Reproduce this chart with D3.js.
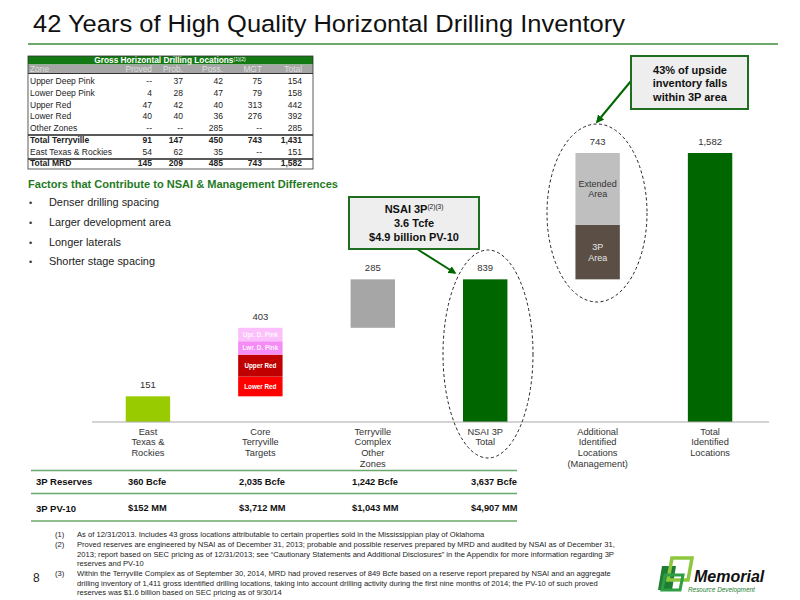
<!DOCTYPE html>
<html><head><meta charset="utf-8">
<script src="https://cdn.jsdelivr.net/npm/d3@7"></script>
<style>
body{margin:0;background:#fff;}
svg{display:block;}
text{font-family:"Liberation Sans",Arial,sans-serif;}
.narrow{font-family:"Liberation Sans Narrow","Arial Narrow","Liberation Sans",sans-serif;}
</style></head>
<body>
<svg id="c" width="800" height="600"></svg>
<script>
// ---------- DATA ----------
const categories = [
  ["East","Texas &","Rockies"],
  ["Core","Terryville","Targets"],
  ["Terryville","Complex","Other","Zones"],
  ["NSAI 3P","Total"],
  ["Additional","Identified","Locations","(Management)"],
  ["Total","Identified","Locations"]
];
const barBase  = [0, 151, 554, 0, 839, 0];
const barValue = [151, 403, 285, 839, 743, 1582];
const barLabels = ["151","403","285","839","743","1,582"];
const coreSegNames  = ["Lower Red","Upper Red","Lwr. D. Pink","Upr. D. Pink"];
const coreSegValues = [116, 129, 79, 79];
const addSegNames  = [["3P","Area"],["Extended","Area"]];
const addSegValues = [320, 423];

const tableHeader = ["Zone","Proved","Prob.","Poss.","MGT","Total"];
const tableZones  = ["Upper Deep Pink","Lower Deep Pink","Upper Red","Lower Red","Other Zones","Total Terryville","East Texas & Rockies","Total MRD"];
const colProved = ["--","4","47","40","--","91","54","145"];
const colProb   = ["37","28","42","40","--","147","62","209"];
const colPoss   = ["42","47","40","36","285","450","35","485"];
const colMGT    = ["75","79","313","276","--","743","--","743"];
const colTotal  = ["154","158","442","392","285","1,431","151","1,582"];

const factors = ["Denser drilling spacing","Larger development area","Longer laterals","Shorter stage spacing"];
const reserves3P = ["360 Bcfe","2,035 Bcfe","1,242 Bcfe","3,637 Bcfe"];
const pv10 = ["$152 MM","$3,712 MM","$1,043 MM","$4,907 MM"];

const footnotes = [
  ["(1)","As of 12/31/2013. Includes 43 gross locations attributable to certain properties sold in the Mississippian play of Oklahoma"],
  ["(2)","Proved reserves are engineered by NSAI as of December 31, 2013; probable and possible reserves prepared by MRD and audited by NSAI as of December 31,"],
  ["","2013; report based on SEC pricing as of 12/31/2013; see \u201cCautionary Statements and Additional Disclosures\u201d in the Appendix for more information regarding 3P"],
  ["","reserves and PV-10"],
  ["(3)","Within the Terryville Complex as of September 30, 2014, MRD had proved reserves of 849 Bcfe based on a reserve report prepared by NSAI and an aggregate"],
  ["","drilling inventory of 1,411 gross identified drilling locations, taking into account drilling activity during the first nine months of 2014; the PV-10 of such proved"],
  ["","reserves was $1.6 billion based on SEC pricing as of 9/30/14"]
];

// ---------- DRAW ----------
const svg = d3.select("#c");
const darkGreen = "#006600";

// title
svg.append("text").attr("x",33).attr("y",32).attr("font-size",24.5).attr("fill","#111")
  .attr("textLength",592).attr("lengthAdjust","spacingAndGlyphs")
  .text("42 Years of High Quality Horizontal Drilling Inventory");
svg.append("line").attr("x1",28).attr("x2",778).attr("y1",44).attr("y2",44)
  .attr("stroke","#3c8c3c").attr("stroke-width",1.5);

// ---------- table ----------
const tX0 = 28, tX1 = 313;
const colRight = [null,152,183,223,262,302];
svg.append("rect").attr("x",tX0).attr("y",56).attr("width",tX1-tX0).attr("height",8.5).attr("fill","#137a13");
const ht = svg.append("text").attr("x",170).attr("y",63.3).attr("text-anchor","middle")
  .attr("font-size",8.3).attr("font-weight","bold").attr("fill","#fff");
ht.append("tspan").text("Gross Horizontal Drilling Locations");
ht.append("tspan").attr("font-size",5).attr("dy",-2).attr("font-weight","normal").text("(1)(2)");
svg.append("rect").attr("x",tX0).attr("y",64.5).attr("width",tX1-tX0).attr("height",8.5).attr("fill","#a6a6a6");
tableHeader.forEach((h,i)=>{
  svg.append("text").attr("x", i===0?30:colRight[i]).attr("y",72)
    .attr("text-anchor", i===0?"start":"end").attr("font-size",8.4).attr("fill","#dedede").text(h);
});
svg.append("line").attr("x1",tX0).attr("x2",tX1).attr("y1",73.5).attr("y2",73.5).attr("stroke","#333").attr("stroke-width",1);
const cols = [colProved,colProb,colPoss,colMGT,colTotal];
const rowY = d3.scaleLinear().domain([0,7]).range([84.3,166.4]);
tableZones.forEach((z,r)=>{
  const bold = (r===5||r===7);
  const y = rowY(r);
  svg.append("text").attr("x",30).attr("y",y).attr("font-size",8.5).attr("fill","#222")
    .attr("font-weight",bold?"bold":"normal").text(z);
  cols.forEach((c,ci)=>{
    svg.append("text").attr("x",colRight[ci+1]).attr("y",y).attr("text-anchor","end")
      .attr("font-size",8.5).attr("fill","#222").attr("font-weight",bold?"bold":"normal").text(c[r]);
  });
});
[135,159].forEach(y=>svg.append("line").attr("x1",tX0).attr("x2",tX1).attr("y1",y).attr("y2",y).attr("stroke","#222").attr("stroke-width",1.3));
svg.append("rect").attr("x",tX0).attr("y",56).attr("width",tX1-tX0).attr("height",113)
  .attr("fill","none").attr("stroke","#333").attr("stroke-width",0.8);

// ---------- factors ----------
svg.append("text").attr("x",28).attr("y",188).attr("font-size",11).attr("font-weight","bold")
  .attr("fill","#1f7a1f").attr("textLength",310).attr("lengthAdjust","spacingAndGlyphs")
  .text("Factors that Contribute to NSAI & Management Differences");
factors.forEach((f,i)=>{
  const y = 206 + i*19.8;
  svg.append("text").attr("x",29).attr("y",y).attr("font-size",9).attr("fill","#333").text("\u2022");
  svg.append("text").attr("x",49).attr("y",y).attr("font-size",10.9).attr("fill","#222").text(f);
});

// ---------- bars ----------
const x = d3.scaleBand().domain(d3.range(categories.length)).range([92,766]).paddingInner(0.605).paddingOuter(0.3);
const y = d3.scaleLinear().domain([0,1582]).range([422,153]);
const barColors = ["#99cc00",null,"#a6a6a6",darkGreen,null,darkGreen];

barValue.forEach((v,i)=>{
  if(barColors[i]) {
    svg.append("rect").attr("x",x(i)).attr("width",x.bandwidth())
      .attr("y",y(barBase[i]+v)).attr("height",y(barBase[i])-y(barBase[i]+v)).attr("fill",barColors[i]);
  }
});
// core segments
const coreColors = ["#ff0000","#c00000","#f58cf5","#fbc0fb"];
let acc = barBase[1];
coreSegValues.forEach((v,k)=>{
  const y0 = y(acc), y1 = y(acc+v);
  svg.append("rect").attr("x",x(1)).attr("width",x.bandwidth()).attr("y",y1).attr("height",y0-y1).attr("fill",coreColors[k]);
  svg.append("text").attr("x",x(1)+x.bandwidth()/2).attr("y",(y0+y1)/2+2.3).attr("text-anchor","middle")
    .attr("font-size",6.3).attr("font-weight","bold").attr("fill", k>=2?"#fff5ff":"#fff").text(coreSegNames[k]);
  acc += v;
});
// additional segments
const addColors = ["#5b4f45","#bfbfbf"];
const addText = ["#e6e6e6","#333"];
acc = barBase[4];
addSegValues.forEach((v,k)=>{
  const y0 = y(acc), y1 = y(acc+v);
  svg.append("rect").attr("x",x(4)).attr("width",x.bandwidth()).attr("y",y1).attr("height",y0-y1).attr("fill",addColors[k]);
  addSegNames[k].forEach((t,j)=>{
    svg.append("text").attr("class","narrow").attr("x",x(4)+x.bandwidth()/2).attr("y",(y0+y1)/2 - 2 + j*10.5)
      .attr("text-anchor","middle").attr("font-size",9).attr("fill",addText[k]).text(t);
  });
  acc += v;
});
// value labels
barValue.forEach((v,i)=>{
  svg.append("text").attr("class","narrow").attr("x",x(i)+x.bandwidth()/2).attr("y",y(barBase[i]+v)-8)
    .attr("text-anchor","middle").attr("font-size",9.5).attr("fill","#333").text(barLabels[i]);
});
// axis
const xAxis = svg.append("g").attr("transform","translate(0,422)")
  .call(d3.axisBottom(x).tickSize(0).tickFormat(""));
xAxis.select(".domain").attr("d","M92,0H769").attr("stroke","#aaa").attr("stroke-width",1.2);
categories.forEach((lines,i)=>{
  lines.forEach((t,j)=>{
    svg.append("text").attr("class","narrow").attr("x",x(i)+x.bandwidth()/2).attr("y",434.5+j*10.8)
      .attr("text-anchor","middle").attr("font-size",9.3).attr("fill","#333").text(t);
  });
});

// ellipses
svg.append("ellipse").attr("cx",488).attr("cy",354).attr("rx",45).attr("ry",104)
  .attr("fill","none").attr("stroke","#222").attr("stroke-dasharray","3,2.5").attr("stroke-width",1);
svg.append("ellipse").attr("cx",597).attr("cy",213).attr("rx",50).attr("ry",89)
  .attr("fill","none").attr("stroke","#222").attr("stroke-dasharray","3,2.5").attr("stroke-width",1);

// arrow marker
const defs = svg.append("defs");
defs.append("marker").attr("id","ah").attr("viewBox","0 0 10 10").attr("refX",8).attr("refY",5)
  .attr("markerWidth",4).attr("markerHeight",4).attr("orient","auto")
  .append("path").attr("d","M0,0L10,5L0,10z").attr("fill",darkGreen);

// NSAI box
svg.append("line").attr("x1",417).attr("y1",249).attr("x2",455).attr("y2",273)
  .attr("stroke",darkGreen).attr("stroke-width",2).attr("marker-end","url(#ah)");
svg.append("rect").attr("x",349).attr("y",197).attr("width",130).attr("height",52)
  .attr("fill","#eeeeee").attr("stroke","#1f6e1f").attr("stroke-width",2);
const nt = svg.append("text").attr("x",414).attr("y",213).attr("text-anchor","middle")
  .attr("font-size",11).attr("font-weight","bold").attr("fill","#111");
nt.append("tspan").text("NSAI 3P");
nt.append("tspan").attr("font-size",6.5).attr("font-weight","normal").attr("dy",-4).text("(2)(3)");
svg.append("text").attr("x",414).attr("y",227).attr("text-anchor","middle").attr("font-size",11).attr("font-weight","bold").attr("fill","#111").text("3.6 Tcfe");
svg.append("text").attr("x",414).attr("y",240.5).attr("text-anchor","middle").attr("font-size",11).attr("font-weight","bold").attr("fill","#111").text("$4.9 billion PV-10");

// 43% box
svg.append("line").attr("x1",631).attr("y1",81).attr("x2",597).attr("y2",122)
  .attr("stroke",darkGreen).attr("stroke-width",2).attr("marker-end","url(#ah)");
svg.append("rect").attr("x",631).attr("y",56).attr("width",117).attr("height",53)
  .attr("fill","#eeeeee").attr("stroke","#1f6e1f").attr("stroke-width",2);
["43% of upside","inventory falls","within 3P area"].forEach((t,i)=>{
  svg.append("text").attr("x",690).attr("y",74+i*13.3).attr("text-anchor","middle")
    .attr("font-size",11).attr("font-weight","bold").attr("fill","#111").text(t);
});

// ---------- reserves table ----------
[470.5,493.5,521].forEach(yy=>svg.append("line").attr("x1",31).attr("x2",517).attr("y1",yy).attr("y2",yy)
  .attr("stroke","#6aa86a").attr("stroke-width",1.5));
const valX = [128,239,352,471];
svg.append("text").attr("class","narrow").attr("x",36).attr("y",485).attr("font-size",9.5).attr("font-weight","bold").attr("fill","#111").text("3P Reserves");
svg.append("text").attr("class","narrow").attr("x",36).attr("y",512).attr("font-size",9.5).attr("font-weight","bold").attr("fill","#111").text("3P PV-10");
reserves3P.forEach((t,i)=>svg.append("text").attr("class","narrow").attr("x",valX[i]).attr("y",485).attr("font-size",9.3).attr("font-weight","bold").attr("fill","#111").text(t));
pv10.forEach((t,i)=>svg.append("text").attr("class","narrow").attr("x",valX[i]).attr("y",511).attr("font-size",9.3).attr("font-weight","bold").attr("fill","#111").text(t));

// ---------- footnotes ----------
const fnY = [537,547,556.5,566,576,585.5,595];
footnotes.forEach((f,i)=>{
  if(f[0]) svg.append("text").attr("class","narrow").attr("x",55).attr("y",fnY[i]).attr("font-size",7.6).attr("fill","#222").text(f[0]);
  svg.append("text").attr("class","narrow").attr("x",77).attr("y",fnY[i]).attr("font-size",7.6).attr("fill","#222").text(f[1]);
});
svg.append("text").attr("x",33).attr("y",582).attr("font-size",12).attr("fill","#222").text("8");

// ---------- logo ----------
const lg = svg.append("g");
lg.append("path").attr("d","M662,566 L676,566 L672,590 L658,590 Z").attr("fill","#1e7d32");
lg.append("path").attr("d","M672,558 L692,558 L688,580 L668,580 Z").attr("fill","none").attr("stroke","#8dc63f").attr("stroke-width",3.5);
lg.append("path").attr("d","M665,575 L683,575 L680,590 L662,590 Z").attr("fill","none").attr("stroke","#2e9e44").attr("stroke-width",3);
lg.append("text").attr("x",694).attr("y",582).attr("font-size",16).attr("font-weight","bold").attr("font-style","italic").attr("fill","#111").text("Memorial");
lg.append("text").attr("x",688).attr("y",592).attr("font-size",6.4).attr("font-style","italic").attr("fill","#1e7d32").text("Resource Development");
</script>
</body></html>
